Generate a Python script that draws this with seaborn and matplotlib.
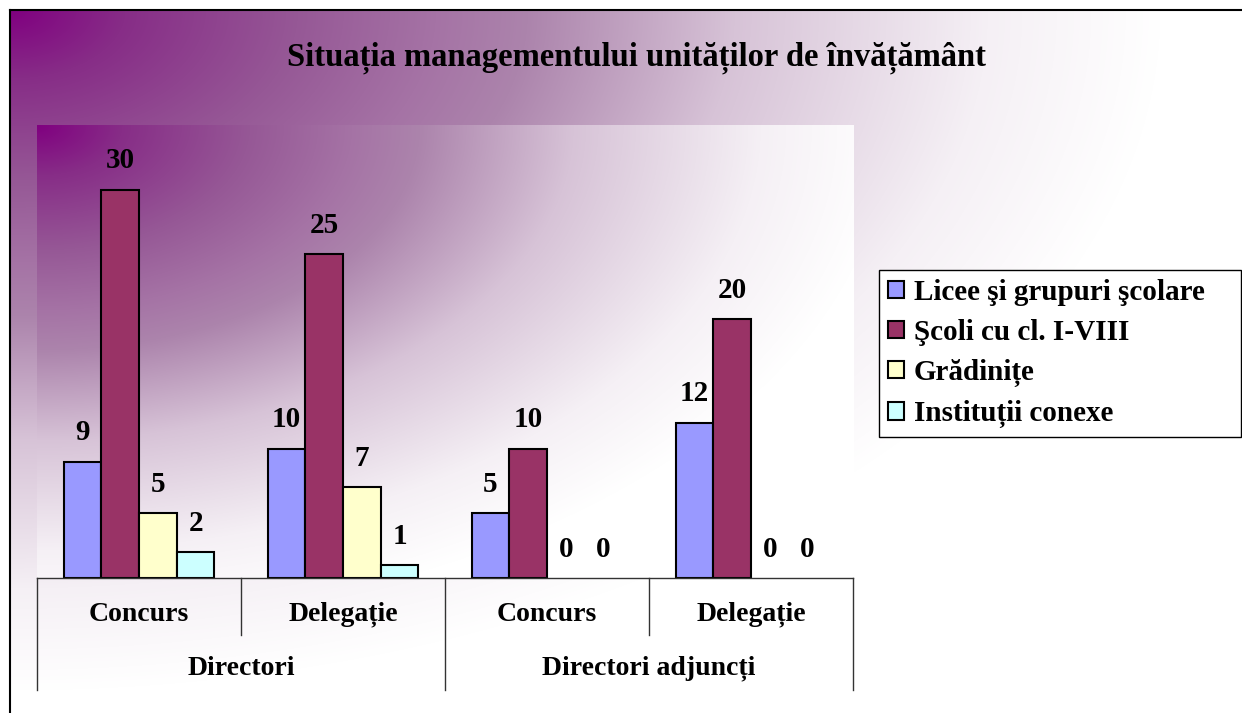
import numpy as np
import pandas as pd
import seaborn as sns
import matplotlib.pyplot as plt
from matplotlib.lines import Line2D
from matplotlib.transforms import blended_transform_factory

# data
categorii = ["Concurs", "Delegație", "Concurs", "Delegație"]
grupe = ["Directori", "Directori adjuncți"]
serii = ["Licee şi grupuri şcolare", "Şcoli cu cl. I-VIII", "Grădinițe", "Instituții conexe"]
licee = [9, 10, 5, 12]
scoli = [30, 25, 10, 20]
gradinite = [5, 7, 0, 0]
institutii = [2, 1, 0, 0]
culori = ["#9999FF", "#993366", "#FFFFCC", "#CCFFFF"]

chei = ["c%d" % i for i in range(len(categorii))]
df = pd.DataFrame({
    "poz": chei * 4,
    "serie": np.repeat(serii, len(chei)),
    "valoare": licee + scoli + gradinite + institutii,
})

W, H = 1242, 713
fig = plt.figure(figsize=(W / 100, H / 100), dpi=100)
fig.patch.set_facecolor("white")
font = "Liberation Serif"

# gradient colour stops (distance from corner -> rgb)
stop_d = [0, 0.1, 0.25, 0.37, 0.45, 0.63, 0.85, 1.0]
stop_c = np.array([(128, 0, 128), (135, 45, 135), (150, 88, 150), (165, 115, 165),
                   (172, 132, 172), (215, 195, 215), (245, 240, 245), (255, 255, 255)]) / 255


def gradient(w, h, rx, ry):
    x, y = np.meshgrid(np.arange(w), np.arange(h))
    d = np.clip(np.sqrt((x / rx) ** 2 + (y / ry) ** 2), 0, 1)
    return np.stack([np.interp(d, stop_d, stop_c[:, k]) for k in range(3)], axis=-1)


# outer background
bg = fig.add_axes([10 / W, 0, 1 - 10 / W, 1 - 10 / H], zorder=-10)
bg.imshow(gradient(W - 10, H - 10, 1150, 680), aspect="auto")
bg.axis("off")
fig.add_artist(Line2D([10 / W, 1], [1 - 10 / H] * 2, color="black", lw=1.5))
fig.add_artist(Line2D([10 / W] * 2, [0, 1 - 10 / H], color="black", lw=1.5))

# plot area
pos = [37 / W, 1 - 578 / H, (853 - 37) / W, (578 - 125) / H]
pa = fig.add_axes(pos, zorder=-5)
pa.imshow(gradient(816, 453, 850, 500), aspect="auto")
pa.axis("off")

ax = fig.add_axes(pos)
ax.patch.set_visible(False)
sns.barplot(data=df, x="poz", y="valoare", hue="serie", order=chei, hue_order=serii,
            palette=culori, saturation=1, width=0.74, edgecolor="black", linewidth=1.5,
            ax=ax)
for c in ax.containers:
    for b in c:
        if b.get_height() == 0:
            b.set_linewidth(0)
    ax.bar_label(c, fmt="%g", padding=11, fontsize=21, fontweight="bold", family=font)

ax.set_xlim(-0.5, 3.5)
ax.set_ylim(0, 35)
ax.set_xlabel("")
ax.set_ylabel("")
ax.set_xticks([])
ax.set_yticks([])
for s in ["top", "right", "left"]:
    ax.spines[s].set_visible(False)
ax.spines["bottom"].set_color("#333333")
ax.spines["bottom"].set_linewidth(1)

# multi-level category axis
tr = blended_transform_factory(ax.transData, ax.transAxes)
for i, cat in enumerate(categorii):
    ax.text(i, -0.08, cat, transform=tr, ha="center", va="center",
            fontsize=20, fontweight="bold", family=font)
for j, gr in enumerate(grupe):
    ax.text(2 * j + 0.5, -0.2, gr, transform=tr, ha="center", va="center",
            fontsize=20, fontweight="bold", family=font)
for xv in [-0.5, 1.5, 3.5]:
    ax.add_line(Line2D([xv, xv], [0, -0.247], transform=tr, color="#333333", lw=1, clip_on=False))
for xv in [0.5, 2.5]:
    ax.add_line(Line2D([xv, xv], [0, -0.126], transform=tr, color="#333333", lw=1, clip_on=False))

# legend
h, l = ax.get_legend_handles_labels()
ax.get_legend().remove()
leg = fig.legend(h, l, loc="upper left",
                 bbox_to_anchor=(879 / W, 1 - 437 / H, 362 / W, 167 / H), mode="expand",
                 borderaxespad=0, frameon=True, fancybox=False, edgecolor="black",
                 facecolor="white", framealpha=1, handlelength=0.55, handleheight=0.55,
                 handletextpad=0.35, labelspacing=0.45, borderpad=0.3,
                 prop={"family": font, "weight": "bold", "size": 21})
leg.get_frame().set_linewidth(1)

fig.text(636 / W, 1 - 58 / H, "Situația managementului unităților de învățământ",
         ha="center", va="center", fontsize=23.5, fontweight="bold", family=font)

fig.savefig("out.png", dpi=100)
